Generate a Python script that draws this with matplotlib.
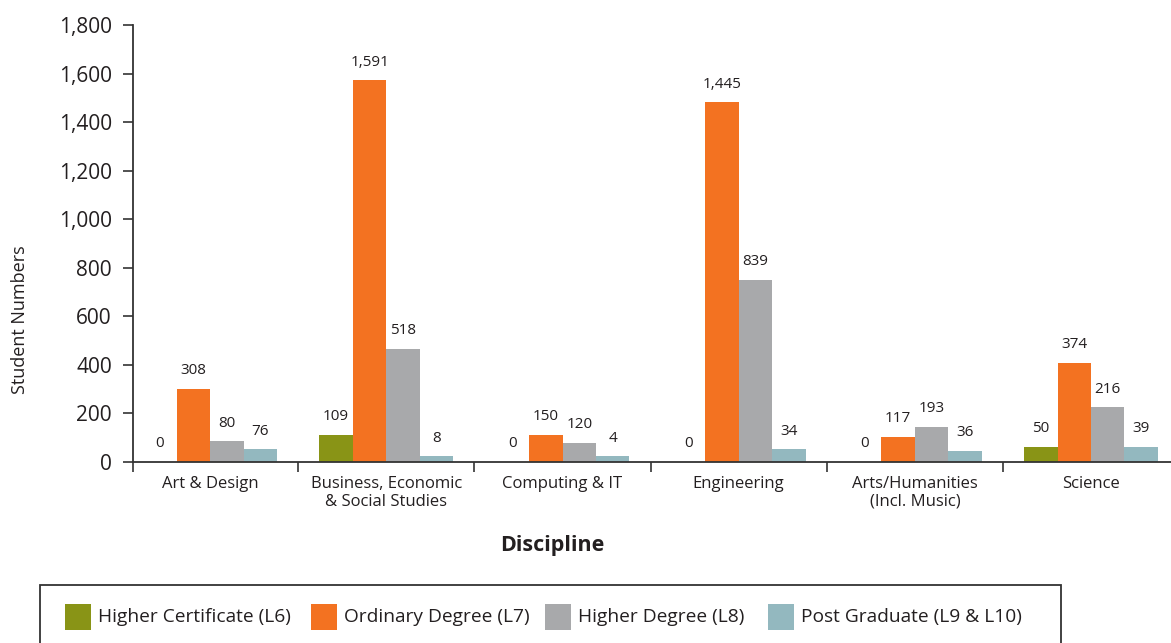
import numpy as np
import matplotlib
matplotlib.use("Agg")
import matplotlib.pyplot as plt
from matplotlib.patches import Rectangle

plt.rcParams['font.family'] = ['Open Sans', 'DejaVu Sans']

categories = ["Art & Design", "Business, Economic\n& Social Studies", "Computing & IT",
              "Engineering", "Arts/Humanities\n(Incl. Music)", "Science"]
series_names = ["Higher Certificate (L6)", "Ordinary Degree (L7)",
                "Higher Degree (L8)", "Post Graduate (L9 & L10)"]
series_colors = ["#899416", "#f37221", "#a8a9ab", "#93b8bf"]

# bar heights as drawn in the picture
higher_cert_bars = [0, 110, 0, 0, 0, 62]
ordinary_bars = [300, 1573, 110, 1482, 103, 408]
higher_deg_bars = [85, 465, 77, 749, 143, 225]
postgrad_bars = [52, 23, 23, 52, 44, 62]

# value labels printed above the bars
higher_cert_labels = [0, 109, 0, 0, 0, 50]
ordinary_labels = [308, 1591, 150, 1445, 117, 374]
higher_deg_labels = [80, 518, 120, 839, 193, 216]
postgrad_labels = [76, 8, 4, 34, 36, 39]

y_ticks = [0, 200, 400, 600, 800, 1000, 1200, 1400, 1600, 1800]

bars = [higher_cert_bars, ordinary_bars, higher_deg_bars, postgrad_bars]
labels = [higher_cert_labels, ordinary_labels, higher_deg_labels, postgrad_labels]

TXT = "#231f20"
W, H = 1171, 643
fig = plt.figure(figsize=(W / 100, H / 100), dpi=100)
ax = fig.add_axes([132.7 / W, 1 - 461.7 / H, (W - 132.7) / W, (461.7 - 25) / H])

x = np.arange(len(categories))
bw = 0.19
for i, (b, lab, col) in enumerate(zip(bars, labels, series_colors)):
    xs = x + (i - 1.5) * bw
    ax.bar(xs, b, width=bw, color=col, linewidth=0)
    for xi, hi, li in zip(xs, b, lab):
        ax.annotate(f"{li:,}", (xi, hi), xytext=(0, 13), textcoords="offset points",
                    ha="center", va="center", fontsize=11, color=TXT)

ax.set_xlim(-0.44, 5.454)
ax.set_ylim(0, 1800)
ax.set_yticks(y_ticks)
ax.set_yticklabels([f"{v:,}" for v in y_ticks])
ax.tick_params(axis="y", length=7, width=1.2, pad=8, labelsize=15, colors="#333333", labelcolor=TXT)

bounds = [-0.44] + [k + 0.5 for k in range(len(categories) - 1)]
ax.set_xticks(bounds)
ax.set_xticklabels([""] * len(bounds))
ax.tick_params(axis="x", which="major", length=7, width=1.2, colors="#333333")
ax.set_xticks(x, minor=True)
ax.set_xticklabels(categories, minor=True)
ax.tick_params(axis="x", which="minor", length=0, pad=10, labelsize=12, labelcolor=TXT)

for s in ["top", "right"]:
    ax.spines[s].set_visible(False)
for s in ["left", "bottom"]:
    ax.spines[s].set_linewidth(1.3)
    ax.spines[s].set_color("#333333")

fig.text(20 / W, 1 - 319.5 / H, "Student Numbers", rotation=90, ha="center", va="center",
         fontsize=13, color=TXT)
fig.text(552.5 / W, 1 - 545 / H, "Discipline", ha="center", va="center",
         fontsize=15.5, fontweight="bold", color=TXT)

# legend box
fig.patches.append(Rectangle((40 / W, -0.05), (1061 - 40) / W, 0.05 + 1 - 585 / H,
                             transform=fig.transFigure, fill=False, edgecolor="#333333",
                             linewidth=1.3))
sq_x = [65, 311, 544.5, 768]
tx_x = [98, 344, 578, 801]
for sx, tx, name, col in zip(sq_x, tx_x, series_names, series_colors):
    fig.patches.append(Rectangle((sx / W, 1 - 630 / H), 26 / W, 26 / H,
                                 transform=fig.transFigure, facecolor=col, linewidth=0))
    fig.text(tx / W, 1 - 617 / H, name, ha="left", va="center", fontsize=13.8, color=TXT)

fig.savefig("out.png", dpi=100)
